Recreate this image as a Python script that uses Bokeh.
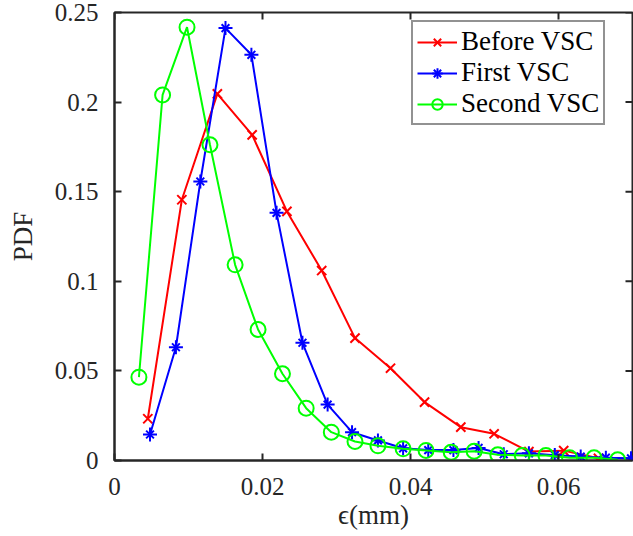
import math
from bokeh.plotting import figure
from bokeh.models import Range1d, FixedTicker, Legend
from bokeh.embed import file_html
from bokeh.resources import INLINE

# ---- data ----
before_x = [0.0045, 0.0091, 0.0139, 0.0186, 0.0233, 0.0280, 0.0325, 0.0373, 0.0419, 0.0468,
            0.0513, 0.0560, 0.0607, 0.0654]
before_y = [0.0233, 0.1455, 0.2046, 0.1817, 0.1390, 0.1060, 0.0683, 0.0515, 0.0326, 0.0186,
            0.0149, 0.0050, 0.0055, 0.0012]

first_x = [0.0048, 0.0083, 0.0116, 0.0150, 0.0185, 0.0219, 0.0254, 0.0288, 0.0321, 0.0356,
           0.0390, 0.0424, 0.0458, 0.0492, 0.0526, 0.0560, 0.0595, 0.0630, 0.0664, 0.0698]
first_y = [0.0145, 0.0632, 0.1557, 0.2413, 0.2264, 0.1382, 0.0657, 0.0312, 0.0158, 0.0112,
           0.0068, 0.0058, 0.0058, 0.0070, 0.0035, 0.0040, 0.0030, 0.0022, 0.0016, 0.0012]

second_x = [0.0033, 0.0065, 0.0098, 0.0129, 0.0163, 0.0194, 0.0227, 0.0259, 0.0293, 0.0325,
            0.0356, 0.0390, 0.0421, 0.0455, 0.0486, 0.0518, 0.0551, 0.0583, 0.0615, 0.0648,
            0.0680]
second_y = [0.0465, 0.2040, 0.2418, 0.1762, 0.1092, 0.0731, 0.0484, 0.0292, 0.0158, 0.0106,
            0.0082, 0.0065, 0.0056, 0.0046, 0.0052, 0.0032, 0.0028, 0.0028, 0.0015, 0.0015,
            0.0004]

x_ticks = [0, 0.02, 0.04, 0.06]
x_tick_labels = ["0", "0.02", "0.04", "0.06"]
y_ticks = [0, 0.05, 0.1, 0.15, 0.2, 0.25]
y_tick_labels = ["0", "0.05", "0.1", "0.15", "0.2", "0.25"]

series_names = ["Before VSC", "First VSC", "Second VSC"]
x_label = "\u03f5(mm)"
y_label = "PDF"

X_MIN, X_MAX = 0, 0.07
Y_MIN, Y_MAX = 0, 0.25

FONT = "serif"
AX = "#262626"

p = figure(width=633, height=536, output_backend="svg", toolbar_location=None,
           x_range=Range1d(X_MIN, X_MAX), y_range=Range1d(Y_MIN, Y_MAX),
           min_border_left=114, min_border_right=1, min_border_top=12, min_border_bottom=76)
p.grid.visible = False
p.outline_line_color = AX
p.outline_line_width = 2
p.background_fill_color = "white"
p.border_fill_color = "white"

def style_axis(ax, ticks, labels):
    ax.ticker = FixedTicker(ticks=ticks)
    ax.major_label_overrides = {t: l for t, l in zip(ticks, labels)}
    ax.axis_line_color = AX
    ax.axis_line_width = 2
    ax.major_tick_line_color = AX
    ax.major_tick_line_width = 2
    ax.major_tick_in = 7
    ax.major_tick_out = 0
    ax.minor_tick_line_color = None
    ax.major_label_text_font = FONT
    ax.major_label_text_color = AX
    ax.major_label_text_font_size = "25px"
    ax.axis_label_text_font = FONT
    ax.axis_label_text_font_style = "normal"
    ax.axis_label_text_color = AX
    ax.axis_label_text_font_size = "27px"

style_axis(p.xaxis[0], x_ticks, x_tick_labels)
style_axis(p.yaxis[0], y_ticks, y_tick_labels)
p.xaxis[0].axis_label = x_label
p.yaxis[0].axis_label = y_label
p.xaxis[0].major_label_standoff = 17
p.yaxis[0].major_label_standoff = 16
p.xaxis[0].axis_label_standoff = 2
p.yaxis[0].axis_label_standoff = 14

# inward ticks on the top and right edges of the box (MATLAB style)
p.ray(x=x_ticks, y=[Y_MAX] * len(x_ticks), length=7, length_units="screen",
      angle=-math.pi / 2, line_color=AX, line_width=2)
p.ray(x=[X_MAX] * len(y_ticks), y=y_ticks, length=7, length_units="screen",
      angle=math.pi, line_color=AX, line_width=2)

items = []
# Before VSC: red with x markers
r1 = p.line(before_x, before_y, line_color="#ff0000", line_width=2)
r1m = p.scatter(before_x, before_y, marker="x", size=13, line_color="#ff0000", line_width=2)
items.append((series_names[0], [r1, r1m]))
# First VSC: blue with asterisks
r2 = p.line(first_x, first_y, line_color="#0000ff", line_width=2)
r2a = p.scatter(first_x, first_y, marker="cross", size=14, line_color="#0000ff", line_width=2)
r2b = p.scatter(first_x, first_y, marker="x", size=11, line_color="#0000ff", line_width=2)
items.append((series_names[1], [r2, r2a, r2b]))
# Second VSC: green with open circles
r3 = p.line(second_x, second_y, line_color="#00ff00", line_width=2)
r3m = p.scatter(second_x, second_y, marker="circle", size=15, line_color="#00ff00",
                line_width=2, fill_alpha=0)
items.append((series_names[2], [r3, r3m]))

legend = Legend(items=items, location=(297, 335))
legend.label_text_font = FONT
legend.label_text_font_size = "27px"
legend.label_text_color = "black"
legend.glyph_width = 40
legend.glyph_height = 26
legend.label_height = 26
legend.label_standoff = 4
legend.spacing = 0
legend.padding = 4
legend.margin = 0
legend.border_line_color = AX
legend.border_line_width = 2
legend.background_fill_color = "white"
legend.background_fill_alpha = 1
p.add_layout(legend, "center")

open("out.html", "w").write(file_html(p, INLINE))
